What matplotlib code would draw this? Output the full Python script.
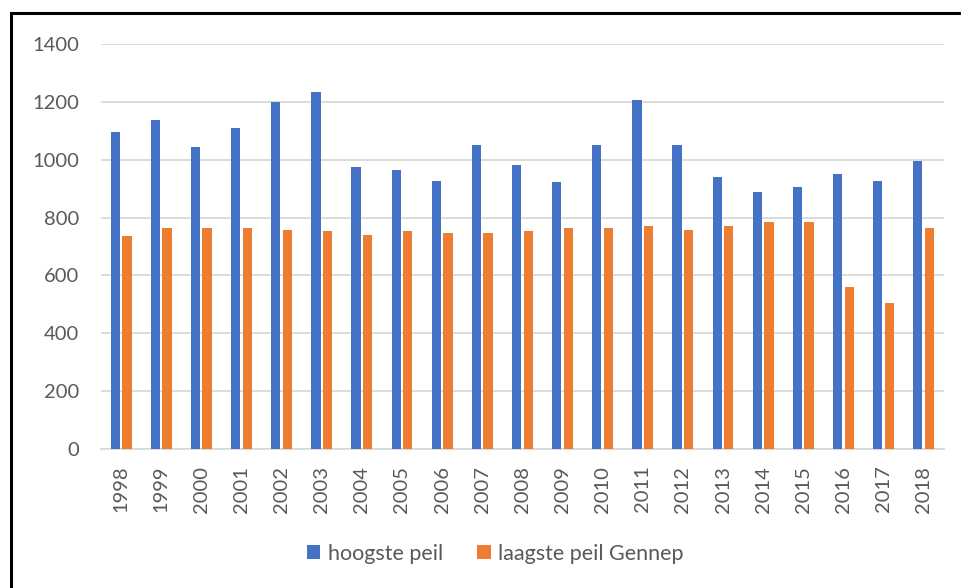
import numpy as np
import matplotlib.pyplot as plt
from matplotlib.patches import Rectangle

# waterstanden (cm) per jaar
jaren = [str(j) for j in range(1998, 2019)]
hoogste_peil = [1096, 1136, 1043, 1110, 1199, 1235, 976, 964, 927, 1051, 982,
                923, 1051, 1207, 1051, 941, 887, 905, 949, 927, 995]
laagste_peil = [737, 763, 763, 763, 758, 754, 741, 754, 746, 746, 754,
                763, 763, 770, 758, 772, 785, 785, 559, 504, 763]

plt.rcParams['font.family'] = ['Lato', 'DejaVu Sans']
tekst = '#595959'

fig = plt.figure(figsize=(9.62, 5.88), dpi=100)
ax = fig.add_axes([0.105, 0.2364, 0.876, 0.6888])

x = np.arange(len(jaren))
w = 0.232
ax.bar(x - 0.145, hoogste_peil, w, color='#4472C4', label='hoogste peil', zorder=3)
ax.bar(x + 0.145, laagste_peil, w, color='#ED7D31', label='laagste peil Gennep', zorder=3)

ax.set_xlim(-0.5, len(jaren) - 0.5)
ax.set_ylim(0, 1400)
ax.set_yticks(range(0, 1401, 200))
ax.set_xticks(x)
ax.set_xticklabels(jaren, rotation=90)
ax.grid(axis='y', color='#D9D9D9', linewidth=1.3, zorder=0)
for s in ['top', 'right', 'left']:
    ax.spines[s].set_visible(False)
ax.spines['bottom'].set_color('#D9D9D9')
ax.spines['bottom'].set_linewidth(1.3)
ax.tick_params(axis='both', length=0, labelsize=14.5, labelcolor=tekst)
ax.tick_params(axis='y', pad=16)
ax.tick_params(axis='x', pad=12)

fig.legend(loc='center', bbox_to_anchor=(0.515, 0.058), ncol=2, frameon=False,
           fontsize=15.5, labelcolor=tekst, handlelength=0.62, handleheight=0.62,
           handletextpad=0.35, columnspacing=1.6)

# zwarte kader van de screenshot
fig.patches.append(Rectangle((10.5 / 962, -0.1), 1.2, 1 - 13 / 588 + 0.1,
                             transform=fig.transFigure, fill=False,
                             edgecolor='black', linewidth=2.2, clip_on=False))

fig.savefig('out.png', dpi=100)
